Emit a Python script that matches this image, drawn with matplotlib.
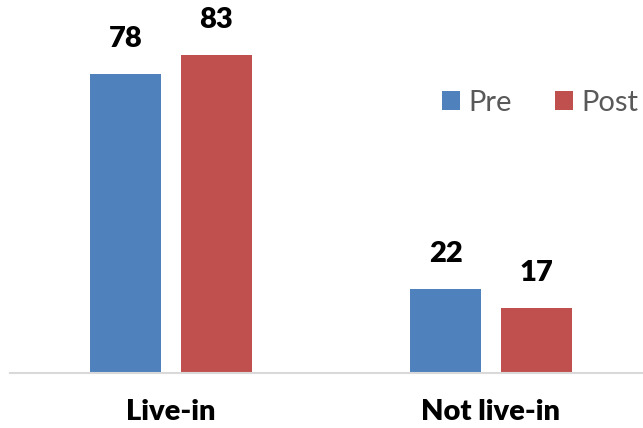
import matplotlib
matplotlib.use("Agg")
import matplotlib.pyplot as plt
import numpy as np

categories = ["Live-in", "Not live-in"]
series_names = ["Pre", "Post"]
pre_values = [78, 22]
post_values = [83, 17]
colors = ["#4F81BD", "#C0504D"]

W, H = 643, 428
fig = plt.figure(figsize=(W / 100, H / 100), dpi=100)
# axes placed in pixel terms: left 10, right 643, baseline at y=373 from top
ax = fig.add_axes([10 / W, 55 / H, 633 / W, 345 / H])

x = np.arange(len(categories))
width = 0.222
offset = 0.142
bars_pre = ax.bar(x - offset, pre_values, width, color=colors[0], label=series_names[0])
bars_post = ax.bar(x + offset, post_values, width, color=colors[1], label=series_names[1])

ax.set_xlim(-0.503, 1.475)
ax.set_ylim(0, 90)

for bars in (bars_pre, bars_post):
    for b in bars:
        ax.annotate(f"{b.get_height():.0f}", (b.get_x() + b.get_width() / 2, b.get_height()),
                    xytext=(0, 22), textcoords="offset pixels", ha="center", va="bottom",
                    fontsize=21, fontweight="heavy", family="Lato", color="black",
                    annotation_clip=False)

for s in ["top", "right", "left"]:
    ax.spines[s].set_visible(False)
ax.spines["bottom"].set_color("#D9D9D9")
ax.spines["bottom"].set_linewidth(1.5)
ax.set_yticks([])
ax.set_xticks(x)
ax.set_xticklabels(categories, fontsize=21, fontweight="heavy", family="Lato")
ax.tick_params(axis="x", length=0, pad=19)

leg = ax.legend(ncol=2, loc="center left", bbox_to_anchor=(442 / W, 1 - 103 / H),
                bbox_transform=fig.transFigure, frameon=False,
                prop={"family": "Lato", "size": 21}, handlelength=0.62, handleheight=0.62,
                handletextpad=0.3, columnspacing=1.45, borderaxespad=0, borderpad=0)
for t in leg.get_texts():
    t.set_color("#595959")

fig.savefig("out.png", dpi=100)
